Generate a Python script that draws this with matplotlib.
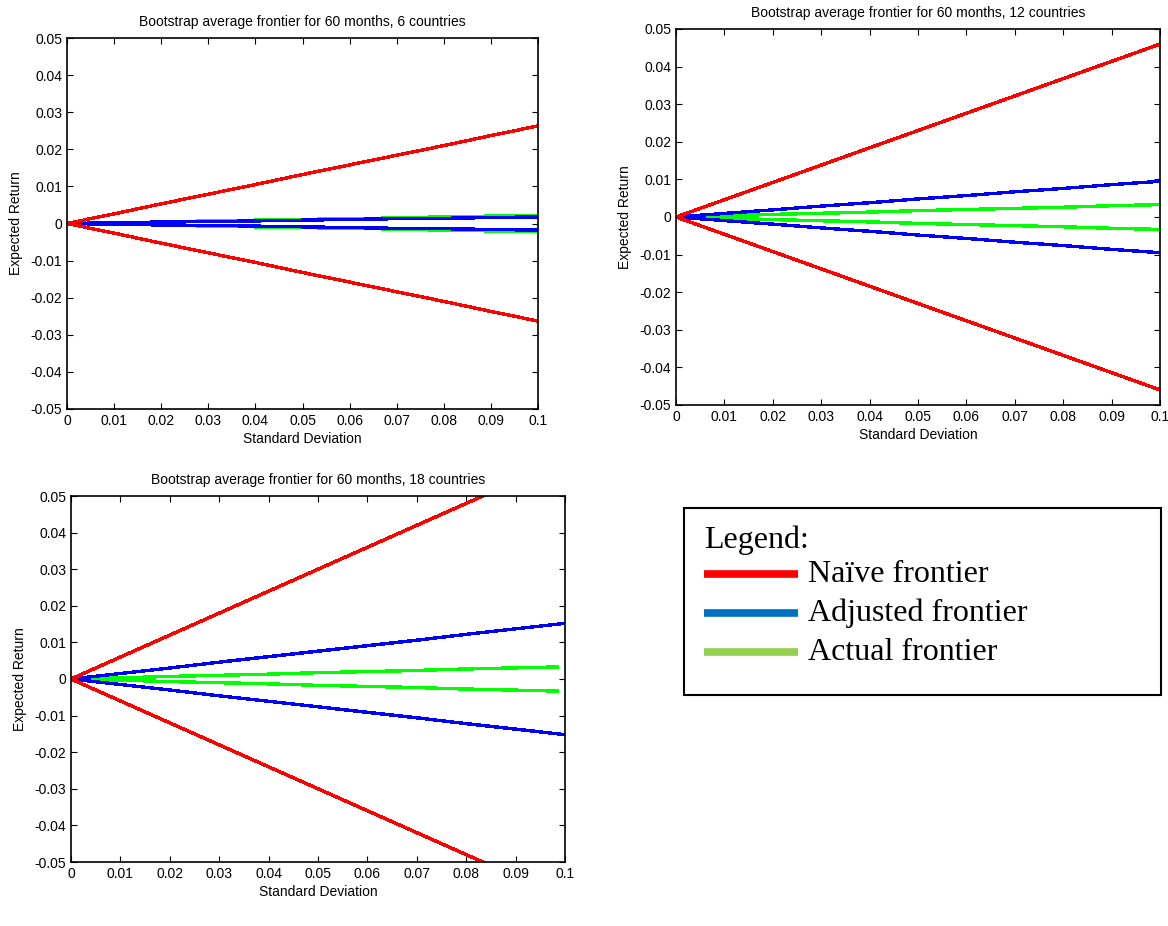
import numpy as np
import matplotlib.pyplot as plt
from matplotlib.patches import Rectangle
from matplotlib.lines import Line2D

plt.rcParams["font.family"] = ["Liberation Sans", "DejaVu Sans"]
plt.rcParams["font.size"] = 10

W, H = 1168, 926

# standard deviation grid (x values read every 0.01)
sd = [0.0, 0.01, 0.02, 0.03, 0.04, 0.05, 0.06, 0.07, 0.08, 0.09, 0.1]
sd_green18 = [0.0, 0.00985, 0.0197, 0.02955, 0.0394, 0.04925, 0.0591, 0.06895, 0.0788, 0.08865, 0.0985]

# upper branch of each frontier (lower branch is the mirror image)
naive6 = [0, .0026, .0053, .0079, .0105, .0132, .0158, .0184, .0210, .0237, .0263]
adj6 = [0, .0002, .0004, .0005, .0007, .0009, .0011, .0013, .0014, .0016, .0018]
act6 = [0, .0002, .0004, .0007, .0009, .0011, .0013, .0015, .0018, .0020, .0022]

naive12 = [0, .0046, .0092, .0138, .0184, .0230, .0276, .0322, .0368, .0414, .0460]
adj12 = [0, .00095, .0019, .0029, .0038, .0048, .0057, .0067, .0076, .0086, .0095]
act12 = [0, .0003, .0007, .0010, .0013, .0017, .0020, .0023, .0026, .0030, .0033]

naive18 = [0, .0060, .0120, .0180, .0240, .0300, .0360, .0420, .0480, .0540, .0600]
adj18 = [0, .0015, .0030, .0046, .0061, .0076, .0091, .0106, .0122, .0137, .0152]
act18 = [0, .0003, .0007, .0010, .0013, .0017, .0020, .0023, .0027, .0030, .0033]

xticks = [0, .01, .02, .03, .04, .05, .06, .07, .08, .09, .1]
xticklabels = ["0", "0.01", "0.02", "0.03", "0.04", "0.05", "0.06", "0.07", "0.08", "0.09", "0.1"]
yticks = [-.05, -.04, -.03, -.02, -.01, 0, .01, .02, .03, .04, .05]
yticklabels = ["-0.05", "-0.04", "-0.03", "-0.02", "-0.01", "0", "0.01", "0.02", "0.03", "0.04", "0.05"]

legend_labels = ["Naïve frontier", "Adjusted frontier", "Actual frontier"]
legend_colors = ["#ff0000", "#0070c0", "#92d050"]


def px_axes(fig, x0, x1, y0, y1):
    return fig.add_axes([x0 / W, 1 - y1 / H, (x1 - x0) / W, (y1 - y0) / H])


def frontier_panel(ax, n, naive, adj, act, x_act=sd):
    for x, y, c in [(x_act, act, "#00ff00"), (sd, adj, "#0000ff"), (sd, naive, "#ff0000")]:
        y = np.array(y)
        ax.plot(x, y, color=c, lw=1.7, antialiased=False)
        ax.plot(x, -y, color=c, lw=1.7, antialiased=False)
    ax.set_xlim(0, 0.1)
    ax.set_ylim(-0.05, 0.05)
    ax.set_xticks(xticks)
    ax.set_xticklabels(xticklabels)
    ax.set_yticks(yticks)
    ax.set_yticklabels(yticklabels)
    ax.tick_params(direction="in", top=True, right=True, length=4, width=0.8, pad=3.5)
    for s in ax.spines.values():
        s.set_linewidth(1.2)
    ax.set_title("Bootstrap average frontier for 60 months, %d countries" % n, fontsize=10, pad=8.5)
    ax.set_xlabel("Standard Deviation", labelpad=3)
    ax.set_ylabel("Expected Return", labelpad=5)


fig = plt.figure(figsize=(W / 100, H / 100), dpi=100)

ax1 = px_axes(fig, 67, 538, 38, 409)
frontier_panel(ax1, 6, naive6, adj6, act6)

ax2 = px_axes(fig, 676, 1160, 29, 405)
frontier_panel(ax2, 12, naive12, adj12, act12)

ax3 = px_axes(fig, 71, 565, 496, 862)
frontier_panel(ax3, 18, naive18, adj18, act18, x_act=sd_green18)

# legend box
fig.patches.append(Rectangle((684 / W, 1 - 695 / H), (1161 - 684) / W, (695 - 508) / H,
                             transform=fig.transFigure, fill=False, ec="black", lw=1.5))
serif = ["Liberation Serif", "DejaVu Serif"]
fig.text(704 / W, 1 - 540 / H, "Legend:", family=serif, fontsize=23, va="center", ha="left")
for i, (lab, c) in enumerate(zip(legend_labels, legend_colors)):
    yy = 1 - (574 + i * 39) / H
    fig.lines.append(Line2D([704 / W, 798 / W], [yy, yy], transform=fig.transFigure,
                            color=c, lw=5.5, solid_capstyle="butt"))
    fig.text(808 / W, yy, lab, family=serif, fontsize=23, va="center", ha="left")

fig.savefig("out.png", dpi=100)
